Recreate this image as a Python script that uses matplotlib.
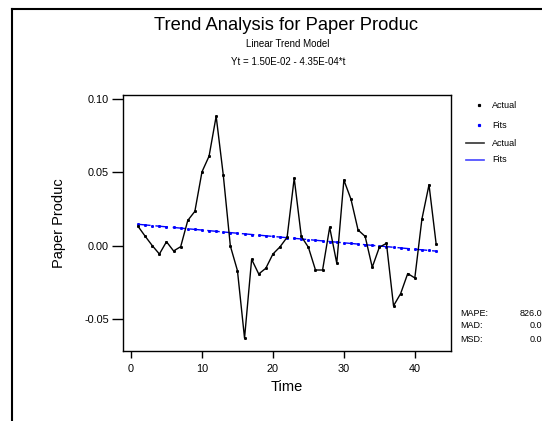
import matplotlib
matplotlib.use("Agg")
import matplotlib.pyplot as plt
from matplotlib.lines import Line2D

plt.rcParams['font.family'] = ['Liberation Sans', 'DejaVu Sans']

time = list(range(1, 44))
actual = [0.0131, 0.0064, 0.0000, -0.0057, 0.0027, -0.0036, -0.0007, 0.0172, 0.0234, 0.0503,
          0.0610, 0.0882, 0.0483, -0.0002, -0.0170, -0.0630, -0.0093, -0.0193, -0.0154, -0.0057,
          -0.0008, 0.0057, 0.0460, 0.0063, -0.0011, -0.0166, -0.0166, 0.0125, -0.0120, 0.0447,
          0.0317, 0.0107, 0.0063, -0.0147, -0.0011, 0.0016, -0.0410, -0.0327, -0.0190, -0.0220,
          0.0181, 0.0415, 0.0014]
fits = [0.01457, 0.01413, 0.01370, 0.01326, 0.01283, 0.01239, 0.01196, 0.01152, 0.01109, 0.01065,
        0.01022, 0.00978, 0.00935, 0.00891, 0.00848, 0.00804, 0.00761, 0.00717, 0.00674, 0.00630,
        0.00587, 0.00543, 0.00500, 0.00456, 0.00413, 0.00369, 0.00326, 0.00282, 0.00239, 0.00195,
        0.00152, 0.00108, 0.00065, 0.00021, -0.00023, -0.00066, -0.00110, -0.00153, -0.00197, -0.00240,
        -0.00284, -0.00327, -0.00371]
xticks = [0, 10, 20, 30, 40]
yticks = [-0.05, 0.00, 0.05, 0.10]
ytick_labels = ['-0.05', '0.00', '0.05', '0.10']
title = "Trend Analysis for Paper Produc"
subtitle1 = "Linear Trend Model"
subtitle2 = "Yt = 1.50E-02 - 4.35E-04*t"
legend_labels = ["Actual", "Fits", "Actual", "Fits"]
stat_names = ["MAPE:", "MAD:", "MSD:"]
stat_values = ["826.0", "0.0", "0.0"]

W, H = 542, 421
fig = plt.figure(figsize=(W / 100, H / 100), dpi=100)

def fx(px):
    return px / W

def fy(py):
    return 1 - py / H

ax = fig.add_axes([fx(123), fy(351), fx(451) - fx(123), fy(95) - fy(351)])
ax.plot(time, fits, color='blue', lw=1.0, dashes=(9, 3.5), marker='s', ms=1.1,
        mec='blue', mfc='blue')
ax.plot(time, actual, color='black', lw=1.0, marker='s', ms=1.1, mec='black', mfc='black')

ax.set_xlim(-1.13, 45.1)
ax.set_ylim(-0.0718, 0.1027)
ax.set_xticks(xticks)
ax.set_yticks(yticks)
ax.set_yticklabels(ytick_labels)
ax.tick_params(axis='both', direction='out', labelsize=7.8, width=1)
ax.tick_params(axis='y', length=8, pad=2)
ax.tick_params(axis='x', length=5, pad=4)
for s in ax.spines.values():
    s.set_linewidth(1.0)
ax.set_xlabel("Time", fontsize=10.5, labelpad=5)
ax.set_ylabel("Paper Produc", fontsize=10.5, labelpad=13)

fig.text(fx(286), fy(25), title, ha='center', va='center', fontsize=13.2)
fig.text(fx(288), fy(44), subtitle1, ha='center', va='center', fontsize=7)
fig.text(fx(288), fy(62), subtitle2, ha='center', va='center', fontsize=7)

# frame lines
fig.add_artist(Line2D([fx(12), fx(542)], [fy(9), fy(9)], transform=fig.transFigure,
                      color='black', lw=1.5))
fig.add_artist(Line2D([fx(12), fx(12)], [fy(9), fy(421)], transform=fig.transFigure,
                      color='black', lw=1.5))

# legend
rows = [105, 125, 143, 160]
fig.add_artist(Line2D([fx(479)], [fy(rows[0])], transform=fig.transFigure, marker='s',
                      ms=1.3, color='black', lw=0))
fig.add_artist(Line2D([fx(479)], [fy(rows[1])], transform=fig.transFigure, marker='s',
                      ms=1.3, color='blue', lw=0))
fig.add_artist(Line2D([fx(466), fx(484)], [fy(rows[2]), fy(rows[2])], transform=fig.transFigure,
                      color='#333333', lw=1.2))
fig.add_artist(Line2D([fx(466), fx(484)], [fy(rows[3]), fy(rows[3])], transform=fig.transFigure,
                      color='#4444ff', lw=1.2))
for r, lab in zip(rows, legend_labels):
    fig.text(fx(492), fy(r), lab, ha='left', va='center', fontsize=6.5)

stat_rows = [313, 326, 339]
stat_x = [520, 530, 530]
for r, n, v, vx in zip(stat_rows, stat_names, stat_values, stat_x):
    fig.text(fx(460), fy(r), n, ha='left', va='center', fontsize=6.5)
    fig.text(fx(vx), fy(r), v, ha='left', va='center', fontsize=6.5)

fig.savefig("out.png", dpi=100)
